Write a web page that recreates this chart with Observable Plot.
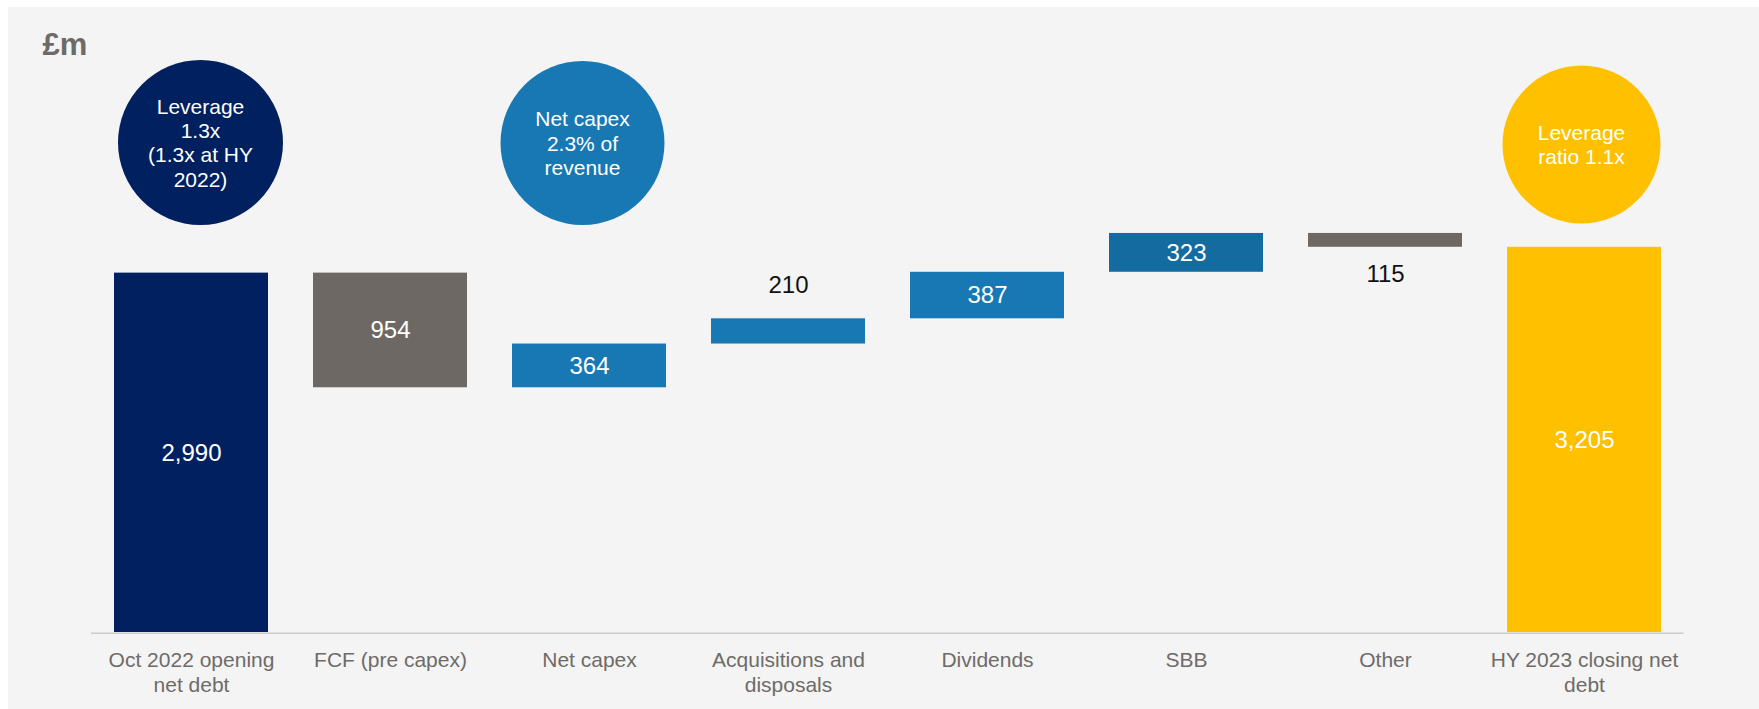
<!DOCTYPE html>
<html>
<head>
<meta charset="utf-8">
<script src="https://cdn.jsdelivr.net/npm/d3@7"></script>
<script src="https://cdn.jsdelivr.net/npm/@observablehq/plot@0.6"></script>
<style>
  html, body { margin: 0; padding: 0; background: #ffffff; }
  #wrap { padding: 7px 0 0 8px; }
</style>
</head>
<body>
<div id="wrap"></div>
<script>
// ---------- DATA ----------
const categories = [
  "Oct 2022 opening net debt",
  "FCF (pre capex)",
  "Net capex",
  "Acquisitions and disposals",
  "Dividends",
  "SBB",
  "Other",
  "HY 2023 closing net debt"
];
const tickLabels = [
  "Oct 2022 opening\nnet debt",
  "FCF (pre capex)",
  "Net capex",
  "Acquisitions and\ndisposals",
  "Dividends",
  "SBB",
  "Other",
  "HY 2023 closing net\ndebt"
];
// signed movements in £m (totals for first and last)
const values = [2990, -954, 364, 210, 387, 323, -115, 3205];
const isTotal = [true, false, false, false, false, false, false, true];
const bubbleCategories = ["Oct 2022 opening net debt", "Net capex", "HY 2023 closing net debt"];
const bubbleTexts = ["Leverage\n1.3x\n(1.3x at HY\n2022)", "Net capex\n2.3% of\nrevenue", "Leverage\nratio 1.1x"];
const unitLabel = "£m";

// ---------- STYLE ----------
const NAVY = "#00205f", GREY = "#6d6864", BLUE = "#1878b4", DBLUE = "#146ba0", GOLD = "#ffc000";
const barFill = {
  "Oct 2022 opening net debt": NAVY,
  "FCF (pre capex)": GREY,
  "Net capex": BLUE,
  "Acquisitions and disposals": BLUE,
  "Dividends": BLUE,
  "SBB": DBLUE,
  "Other": GREY,
  "HY 2023 closing net debt": GOLD
};
const labelPlace = { "Acquisitions and disposals": "above", "Other": "below" };
const bubbleStyle = {
  "Oct 2022 opening net debt": { fill: NAVY, r: 82.5, dx: 9, dy: 135 },
  "Net capex": { fill: BLUE, r: 82, dx: -7, dy: 135.5 },
  "HY 2023 closing net debt": { fill: GOLD, r: 79, dx: -3, dy: 137 }
};

// ---------- BUILD ----------
let run = 0;
const rows = categories.map((cat, i) => {
  let a, b;
  if (isTotal[i]) { a = 0; b = values[i]; run = values[i]; }
  else { a = run; b = run + values[i]; run = b; }
  return { cat, lo: Math.min(a, b), hi: Math.max(a, b), label: d3.format(",")(Math.abs(values[i])) };
});
const bubbles = bubbleCategories.map((cat, i) => ({ cat, text: bubbleTexts[i] }));

const inside = rows.filter(d => !labelPlace[d.cat]);
const above = rows.filter(d => labelPlace[d.cat] === "above");
const below = rows.filter(d => labelPlace[d.cat] === "below");

const chart = Plot.plot({
  width: 1751,
  height: 702,
  marginLeft: 83,
  marginRight: 75.5,
  marginTop: 0,
  marginBottom: 77,
  style: { background: "#f4f4f4", fontFamily: "'Liberation Sans', Arial, sans-serif" },
  x: { domain: categories, paddingInner: 0.226, paddingOuter: 0.113 },
  y: { domain: [0, 5200], axis: null },
  marks: [
    Plot.ruleY([0], { stroke: "#cbcbcb", strokeWidth: 1.6, dy: 0.8 }),
    Plot.barY(rows, { x: "cat", y1: "lo", y2: "hi", fill: d => barFill[d.cat] }),
    Plot.text(inside, { x: "cat", y: d => (d.lo + d.hi) / 2, text: "label", fill: "white", fontSize: 24 }),
    Plot.text(above, { x: "cat", y: "hi", dy: -33, text: "label", fill: "#111111", fontSize: 24 }),
    Plot.text(below, { x: "cat", y: "lo", dy: 27, text: "label", fill: "#111111", fontSize: 24 }),
    ...bubbles.map(b => {
      const s = bubbleStyle[b.cat];
      return Plot.dot([b], { x: "cat", frameAnchor: "top", dx: s.dx, dy: s.dy, r: s.r, fill: s.fill });
    }),
    ...bubbles.map(b => {
      const s = bubbleStyle[b.cat];
      return Plot.text([b], { x: "cat", frameAnchor: "top", lineAnchor: "middle", dx: s.dx, dy: s.dy, text: "text", fill: "white", fontSize: 21, lineHeight: 24.3 / 21 });
    }),
    Plot.text([unitLabel], { frameAnchor: "top-left", lineAnchor: "middle", dx: -49, dy: 38, text: d => d, textAnchor: "start", fontSize: 31, fontWeight: "bold", fill: "#6d6a67" }),
    Plot.axisX({ tickSize: 0, tickPadding: 17, fontSize: 21, lineHeight: 25 / 21, fill: "#6e6b68", label: null,
                 tickFormat: d => tickLabels[categories.indexOf(d)] })
  ]
});
document.getElementById("wrap").appendChild(chart);
</script>
</body>
</html>
